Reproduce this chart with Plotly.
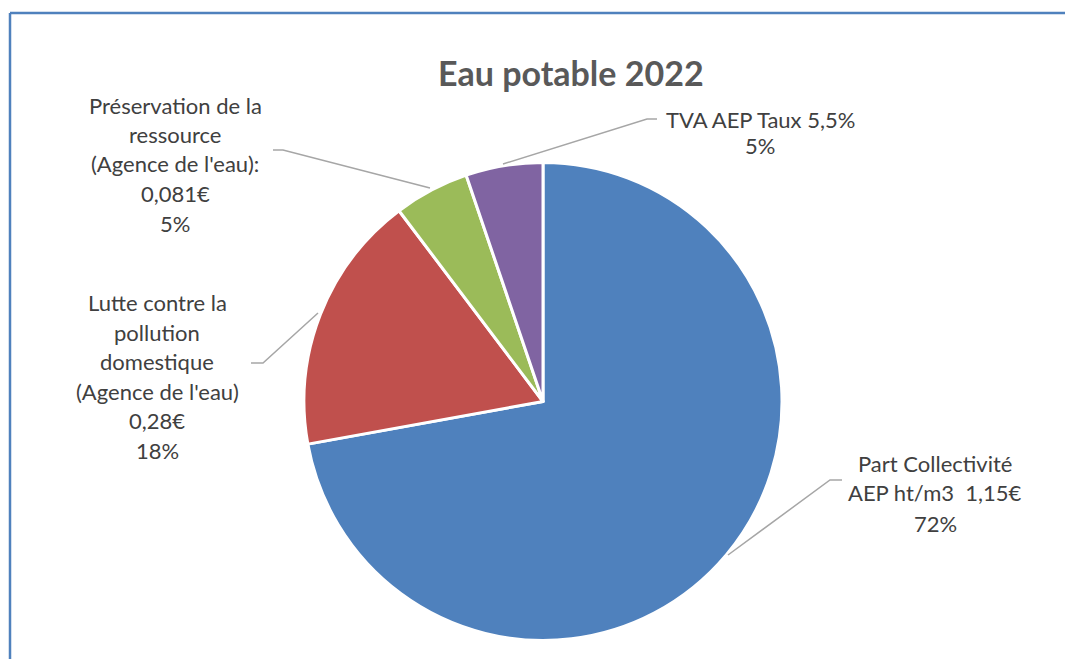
import plotly.graph_objects as go

W, H = 1065, 659

categories = [
    "Part Collectivité AEP ht/m3 1,15€",
    "Lutte contre la pollution domestique (Agence de l'eau) 0,28€",
    "Préservation de la ressource (Agence de l'eau): 0,081€",
    "TVA AEP Taux 5,5%",
]
values = [1.15, 0.28, 0.081, 0.083]
colors = ["#4F81BD", "#C0504D", "#9BBB59", "#8064A2"]

label_lines = [
    ["Part Collectivité", "AEP ht/m3  1,15€"],
    ["Lutte contre la", "pollution", "domestique", "(Agence de l'eau)", "0,28€"],
    ["Préservation de la", "ressource", "(Agence de l'eau):", "0,081€"],
    ["TVA AEP Taux 5,5%"],
]
pct_labels = ["72%", "18%", "5%", "5%"]

# label layout (pixel positions of block centres, line pitch)
label_pos = [(935, 493, 30), (157, 376.5, 29.5), (175, 164, 29.5), (760, 132.5, 27)]
leaders = [
    [(728, 555), (830, 480), (842, 480)],
    [(318, 313), (263, 363), (251, 363)],
    [(430, 188), (283, 150), (273, 150)],
    [(503, 164), (647, 119), (657, 119)],
]

def px(x):
    return x / W

def py(y):
    return 1 - y / H

cx, cy, r = 543, 401.5, 239
fig = go.Figure(go.Pie(
    labels=categories,
    values=values,
    sort=False,
    direction="clockwise",
    rotation=0,
    textinfo="none",
    hoverinfo="label+value+percent",
    marker=dict(colors=colors, line=dict(color="white", width=3)),
    domain=dict(x=[px(cx - r), px(cx + r)], y=[py(cy + r), py(cy - r)]),
    showlegend=False,
))

annotations = []
for lines, pct, (lx, ly, pitch) in zip(label_lines, pct_labels, label_pos):
    allines = lines + [pct]
    n = len(allines)
    for i, t in enumerate(allines):
        yy = ly + (i - (n - 1) / 2) * pitch
        annotations.append(dict(
            x=px(lx), y=py(yy), xref="paper", yref="paper",
            text=t, showarrow=False, xanchor="center", yanchor="middle",
            font=dict(family="Lato, sans-serif", size=22, color="#404040"),
        ))

annotations.append(dict(
    x=px(571), y=py(72), xref="paper", yref="paper",
    text="<b>Eau potable 2022</b>", showarrow=False,
    xanchor="center", yanchor="middle",
    font=dict(family="Lato, sans-serif", size=34, color="#595959"),
))

shapes = []
for pts in leaders:
    path = "M " + " L ".join(f"{px(x)},{py(y)}" for x, y in pts)
    shapes.append(dict(type="path", path=path, xref="paper", yref="paper",
                       line=dict(color="#A6A6A6", width=1.5)))
# chart frame (top and left edges visible)
shapes.append(dict(type="line", xref="paper", yref="paper",
                   x0=px(10), y0=py(13), x1=1, y1=py(13),
                   line=dict(color="#4F81BD", width=2.5)))
shapes.append(dict(type="line", xref="paper", yref="paper",
                   x0=px(10), y0=py(13), x1=px(10), y1=0,
                   line=dict(color="#4F81BD", width=2.5)))

fig.update_layout(
    width=W, height=H,
    margin=dict(l=0, r=0, t=0, b=0),
    paper_bgcolor="white", plot_bgcolor="white",
    annotations=annotations, shapes=shapes,
)

fig.write_html("out.html", config={"displayModeBar": False},
               post_script="document.body.style.margin='0';")
